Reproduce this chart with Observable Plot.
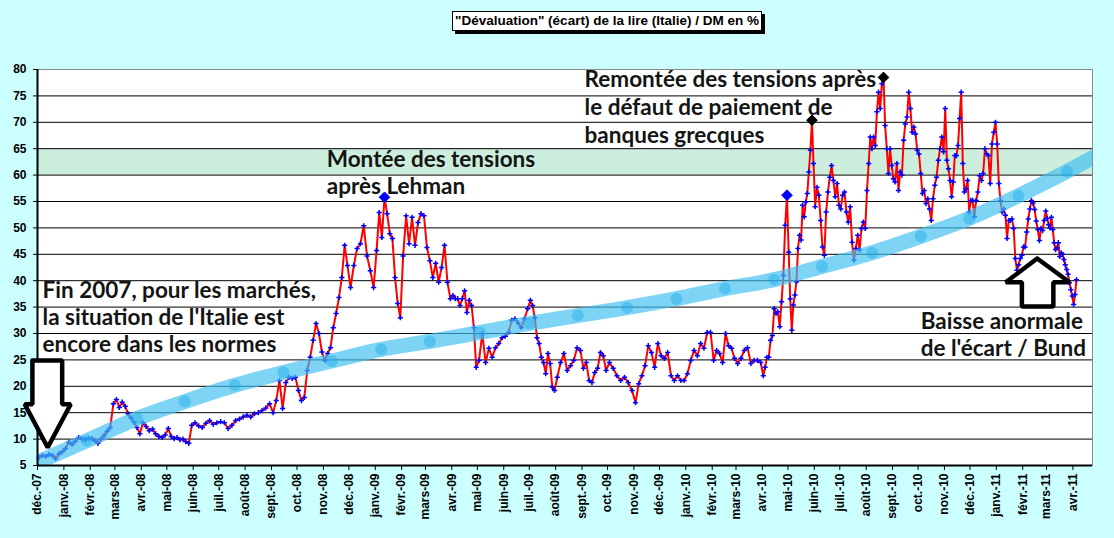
<!DOCTYPE html>
<html><head><meta charset="utf-8">
<script src="https://cdn.jsdelivr.net/npm/d3@7"></script>
<script src="https://cdn.jsdelivr.net/npm/@observablehq/plot@0.6"></script>
<style>
html,body{margin:0;padding:0;background:#ccffff;}
#wrap{position:relative;width:1114px;height:538px;overflow:hidden;}
#title{position:absolute;left:452px;top:11px;width:308px;height:18px;background:#fff;border:1px solid #000;box-shadow:3px 3px 0 #000;font:bold 13.5px "Liberation Sans Narrow","Arial Narrow","Liberation Sans",sans-serif;text-align:center;line-height:18px;white-space:nowrap;}
#chart{position:absolute;left:0;top:0;}
</style></head><body>
<div id="wrap"><div id="chart"></div><div id="title">"Dévaluation" (écart) de la lire (Italie) / DM en %</div></div>
<script>
// ---- data: readings per month (spread evenly within the month) ----
const v2007 = [ // Dec
  [6.5, 6.9, 6.7, 7.1, 6.9, 6.3, 7.2, 7.6]
];
const v2008 = [
  [8.2, 9.4, 9.0, 9.6, 10.3, 10.0, 9.9, 10.1],
  [10.1, 9.7, 9.2, 10.0, 10.7, 11.5, 12.2, 16.7],
  [17.5, 16.0, 17.0, 16.2, 14.8, 14.0, 13.2, 12.2, 11.0],
  [13.1, 12.4, 11.6, 11.9, 11.0, 10.5, 10.3, 10.8],
  [12.0, 10.5, 10.1, 10.3, 9.9, 10.0, 9.5, 9.2, 12.6],
  [13.1, 12.5, 12.2, 13.0, 13.5, 12.8, 13.1],
  [13.3, 13.1, 12.0, 12.6, 13.5, 13.8, 14.2],
  [14.5, 14.2, 14.8, 15.0, 15.4, 15.9, 16.7],
  [15.0, 17.3, 21.1, 15.8, 20.7, 21.7, 21.5, 21.7],
  [19.2, 17.3, 17.9, 23.0, 25.5, 28.7, 31.9, 30.0, 26.5],
  [24.9, 26.2, 27.3, 31.1, 33.8, 36.8, 40.6, 46.7, 42.9],
  [38.7, 42.9, 46.1, 47.0, 50.4, 44.7, 41.9, 38.7]
];
const v2009 = [
  [45.7, 52.9, 48.2, 55.8, 52.7, 48.9, 48.0, 40.6, 35.7, 33.0],
  [44.7, 52.3, 47.0, 52.0, 46.7, 51.0, 52.7, 52.3],
  [46.3, 43.8, 40.6, 43.3, 39.7, 42.5, 46.7, 39.7, 36.6],
  [37.2, 36.6, 36.6, 35.3, 36.6, 38.1, 34.0, 36.3, 35.3, 31.1, 23.6],
  [24.9, 30.0, 24.5, 27.2, 25.5, 27.3, 28.1, 29.2],
  [29.5, 30.2, 32.5, 32.8, 32.0, 31.1, 32.8, 34.7],
  [36.3, 35.3, 33.0, 29.2, 28.1, 25.5, 24.5, 22.4, 26.2, 24.3, 19.8, 19.2],
  [21.7, 24.5, 26.2, 23.0, 23.9, 24.9, 27.3, 26.8],
  [23.4, 24.5, 21.1, 20.7, 22.6, 23.4, 26.4, 25.8, 23.0],
  [24.5, 23.4, 22.0, 21.1, 21.7, 20.7, 19.2],
  [16.9, 20.5, 22.0, 23.9, 27.7, 26.4, 23.6, 28.1],
  [25.8, 25.3, 26.4, 22.0, 21.1, 22.0, 21.1, 21.1]
];
const v2010 = [
  [22.4, 24.9, 26.8, 25.8, 28.1, 27.2, 30.2, 30.2],
  [24.9, 26.8, 26.2, 24.5, 30.0, 27.7, 27.2, 25.3],
  [24.3, 25.3, 26.8, 27.3, 24.3, 24.9, 24.9, 24.5],
  [22.0, 23.6, 25.5, 25.5, 28.7, 29.6, 34.7, 33.8, 34.1, 31.3, 36.0, 41.0, 50.5, 56.2],
  [45.4, 36.6, 30.6, 35.4, 37.3, 39.8, 46.1, 48.6, 47.7, 54.3, 52.1, 54.9, 56.5, 60.6, 64.7, 70.4, 62.2],
  [54.0, 57.7, 56.2, 51.4, 46.4, 44.8, 53.0, 56.8, 59.6, 61.8, 59.0, 55.9, 58.4, 54.3],
  [53.6, 56.2, 56.8, 53.0, 51.1, 54.0, 47.3, 43.9, 46.1, 48.6, 45.8, 49.9, 51.1, 49.9],
  [57.1, 62.2, 67.2, 65.0, 67.2, 65.6, 72.0, 75.7, 72.6, 77.3, 78.5, 69.4, 65.0, 60.3, 65.0, 61.8],
  [59.3, 58.7, 62.2, 57.1, 60.6, 60.0, 66.6, 69.7, 71.0, 75.7, 72.6, 68.1, 69.1, 67.8, 64.7],
  [64.0, 60.3, 56.5, 57.1, 54.6, 55.5, 53.6, 51.4, 55.5, 58.1, 59.6, 62.8, 65.0, 67.2, 64.4],
  [72.6, 62.8, 61.2, 59.0, 55.9, 58.7, 63.7, 63.7, 65.6, 70.7, 75.7, 62.2, 56.8, 57.4, 59.0, 53.0],
  [55.2, 55.2, 52.1, 55.2, 56.8, 59.9, 59.0, 60.3, 65.0, 64.0, 63.7, 58.4, 65.9, 68.1, 70.0]
];
const v2011 = [
  [65.9, 58.4, 55.2, 53.0, 53.6, 52.4, 48.0, 51.4, 51.4, 51.7, 49.9, 44.2, 42.0, 43.0, 44.2, 44.8],
  [46.4, 46.4, 49.2, 51.7, 53.6, 55.2, 54.7, 53.5, 51.3, 49.7, 47.6, 49.9, 49.5, 51.4, 53.2],
  [51.8, 50.6, 50.0, 52.0, 49.7, 47.2, 45.9, 46.2, 47.2, 44.6, 45.3, 45.0, 44.0, 43.0, 42.1, 41.2, 39.6, 38.3, 37.1],
  [35.5, 37.4, 40.2]
];
const dataEnd = "2011-04-06";
const yearBlocks = [[2007, 12, v2007], [2008, 1, v2008], [2009, 1, v2009], [2010, 1, v2010], [2011, 1, v2011]];

// highlighted points (year, month, index within month)
const highlights = [
  {year: 2009, month: 1, index: 3, color: "#0000ff"},
  {year: 2010, month: 4, index: 13, color: "#0000ff"},
  {year: 2010, month: 5, index: 15, color: "#000000"},
  {year: 2010, month: 8, index: 10, color: "#000000"}
];

// trend band (read at its circle markers)
const trendDates = ["2007-12-01","2008-01-28","2008-03-27","2008-05-22","2008-07-20","2008-09-15","2008-11-11",
  "2009-01-08","2009-03-06","2009-05-04","2009-07-01","2009-08-27","2009-10-24","2009-12-21","2010-02-16",
  "2010-04-15","2010-06-10","2010-08-08","2010-10-04","2010-11-30","2011-01-27","2011-03-25","2011-04-24"];
const trendValues = [5.6, 9.7, 13.9, 17.1, 20.2, 22.6, 24.8, 27.0, 28.5, 30.2, 31.9, 33.4, 34.9, 36.6, 38.5,
  40.2, 42.7, 45.3, 48.4, 51.8, 56.1, 60.7, 63.3];

// zone of tension
const zoneLow = 60, zoneHigh = 65;

// axes
const monthNames = ["janv.","févr.","mars","avr.","mai","juin","juil.","août","sept.","oct.","nov.","déc."];
const yTicks = [5,10,15,20,25,30,35,40,45,50,55,60,65,70,75,80];
const xStart = "2007-12-01", xEnd = "2011-04-24";

// annotations (baseline anchored)
const notes = [
  {date: "2007-12-07", value: 36.8, text: "Fin 2007, pour les marchés,"},
  {date: "2007-12-07", value: 31.6, text: "la situation de l'Italie est"},
  {date: "2007-12-07", value: 26.5, text: "encore dans les normes"},
  {date: "2008-11-05", value: 61.6, text: "Montée des tensions"},
  {date: "2008-11-05", value: 56.5, text: "après Lehman"},
  {date: "2009-09-04", value: 76.6, text: "Remontée des tensions après"},
  {date: "2009-09-04", value: 71.3, text: "le défaut de paiement de"},
  {date: "2009-09-04", value: 66.0, text: "banques grecques"},
  {date: "2010-10-04", value: 30.9, text: "Baisse anormale"},
  {date: "2010-10-04", value: 25.7, text: "de l'écart / Bund"}
];
// block arrows outlines
const arrowDown = [
  ["2007-11-25", 24.9], ["2007-12-30", 24.9], ["2007-12-30", 16.6], ["2008-01-09", 16.6],
  ["2007-12-13", 8.4], ["2007-11-16", 16.6], ["2007-11-25", 16.6], ["2007-11-25", 24.9]
];
const arrowUp = [
  ["2011-02-18", 44.2], ["2011-03-28", 39.7], ["2011-03-09", 39.7], ["2011-03-09", 35.1],
  ["2011-01-31", 35.1], ["2011-01-31", 39.7], ["2011-01-12", 39.7], ["2011-02-18", 44.2]
];

// ---- build ----
const endT = Date.parse(dataEnd);
const data = [];
const hi = [];
for (const [year, first, blocks] of yearBlocks) {
  blocks.forEach((vals, k) => {
    const m = first - 1 + k;
    const start = Date.UTC(year, m, 1);
    const end = Math.min(Date.UTC(year, m + 1, 1), endT);
    vals.forEach((v, i) => {
      const d = {date: new Date(start + (i + 0.5) / vals.length * (end - start)), value: v};
      data.push(d);
      for (const h of highlights) if (h.year === year && h.month === m + 1 && h.index === i) hi.push({...d, color: h.color});
    });
  });
}
const trend = trendDates.map((t, i) => ({date: new Date(t), value: trendValues[i]}));
const trendCircles = trend.slice(1, -1);
const toPts = a => a.map(([t, v]) => ({date: new Date(t), value: v}));
const fmt = d => monthNames[d.getUTCMonth()] + "-" + String(d.getUTCFullYear()).slice(2);
const monthTicks = d3.utcMonth.range(new Date(xStart), d3.utcDay.offset(new Date("2011-04-01"), 1));

const chart = Plot.plot({
  width: 1114, height: 538,
  marginLeft: 37, marginRight: 22, marginTop: 69, marginBottom: 73,
  style: {background: "transparent", fontFamily: "Arial, 'Liberation Sans', sans-serif", fontSize: "12px", fontWeight: "bold", color: "#000"},
  x: {type: "utc", domain: [new Date(xStart), new Date(xEnd)]},
  y: {domain: [5, 80]},
  marks: [
    Plot.frame({fill: "white", stroke: null}),
    Plot.rect([{y1: zoneLow, y2: zoneHigh}], {y1: "y1", y2: "y2", fill: "#cdeedd"}),
    Plot.gridY(yTicks.filter(t => t > 5 && t < 80), {stroke: "#000", strokeOpacity: 1, strokeWidth: 1}),
    Plot.frame({stroke: "#8a8a8a", fill: null}),
    Plot.line(data, {x: "date", y: "value", stroke: "#ff0000", strokeWidth: 2}),
    Plot.dot(data, {x: "date", y: "value", symbol: "plus", r: 1.8, stroke: "#0000ff", strokeWidth: 1.5}),
    Plot.line(trend, {x: "date", y: "value", stroke: "#3fbff0", strokeOpacity: 0.68, strokeWidth: 15, curve: "monotone-x", clip: true}),
    Plot.dot(trendCircles, {x: "date", y: "value", r: 6, fill: "#22aee8", fillOpacity: 0.45}),
    Plot.dot(hi, {x: "date", y: "value", symbol: "diamond2", r: 4.8, fill: "color", stroke: "color", strokeWidth: 1}),
    Plot.ruleX([new Date(xStart)], {stroke: "#000", strokeWidth: 2}),
    Plot.ruleY([5], {stroke: "#000", strokeWidth: 2}),
    Plot.axisY(yTicks, {tickSize: 4, tickPadding: 7, fontSize: 12, fontWeight: "bold", label: null}),
    Plot.axisX(monthTicks, {tickFormat: fmt, tickRotate: -90, tickSize: 5, tickPadding: 3, fontSize: 12, fontWeight: "bold", label: null}),
    Plot.line(toPts(arrowDown), {x: "date", y: "value", stroke: "#000", strokeWidth: 4.5, fill: "white", strokeLinejoin: "miter"}),
    Plot.line(toPts(arrowUp), {x: "date", y: "value", stroke: "#000", strokeWidth: 4.5, fill: "white", strokeLinejoin: "miter"}),
    Plot.text(notes, {x: d => new Date(d.date), y: "value", text: "text", textAnchor: "start", lineAnchor: "bottom",
      fontSize: 22.5, fontWeight: "bold", fontFamily: "Lato, 'Open Sans', sans-serif", fill: "#141414"})
  ]
});
document.getElementById("chart").appendChild(chart);
</script>
</body></html>
